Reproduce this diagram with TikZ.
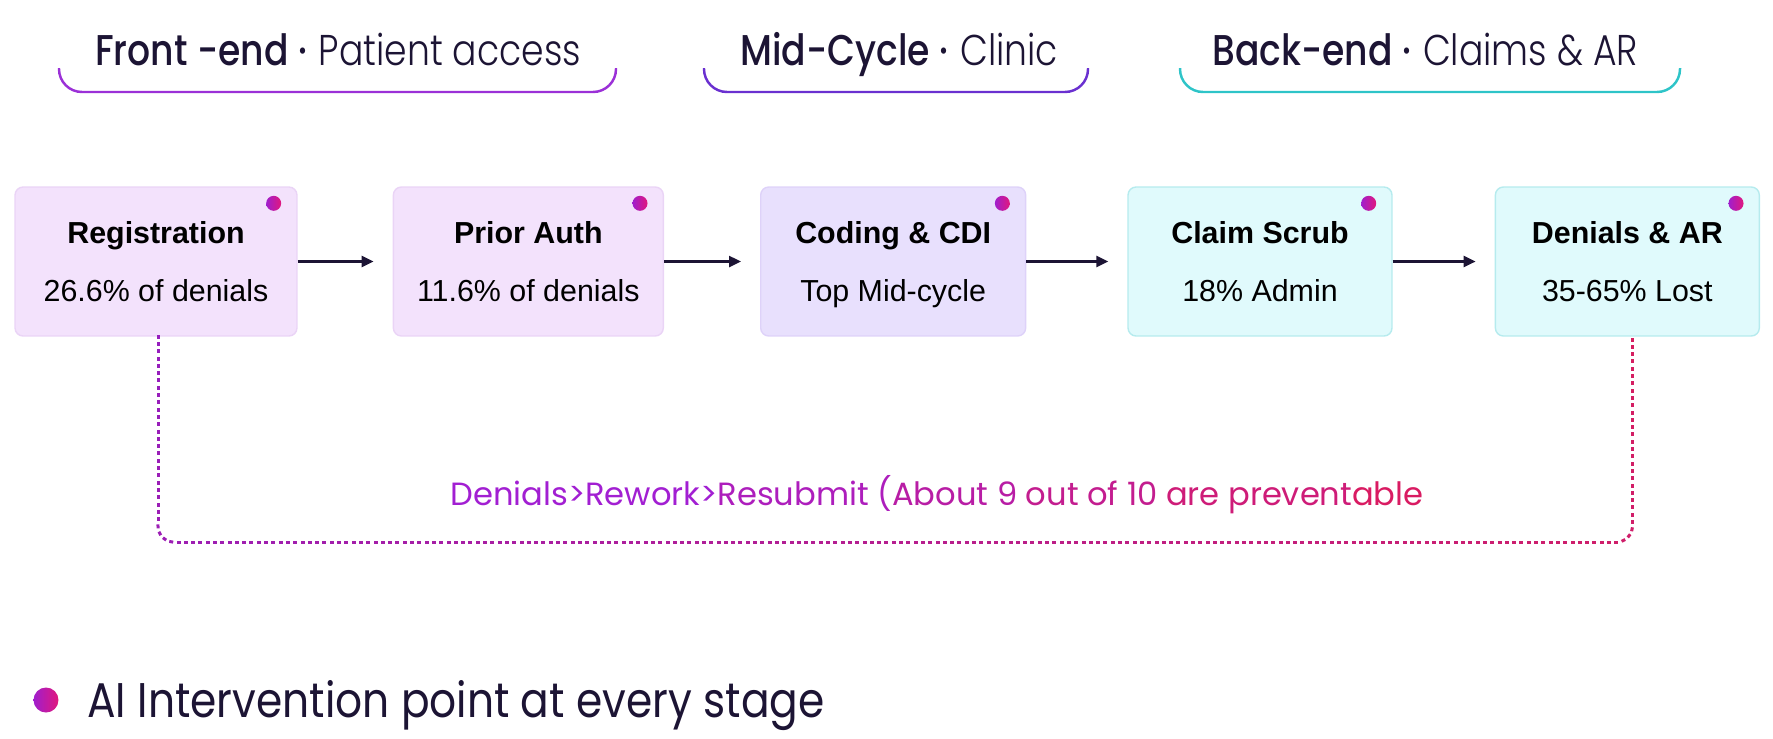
\documentclass[tikz,border=0pt]{standalone}
\usepackage{fontspec}
\setmainfont{Liberation Sans}
\newfontfamily\popmed[FakeStretch=0.84]{Poppins Medium}
\newfontfamily\poplight[FakeStretch=0.84]{Poppins Light}
\newfontfamily\popreg{Poppins}
\newfontfamily\popnarrow[FakeStretch=0.87]{Poppins}
\usetikzlibrary{arrows.meta, positioning, calc, decorations.markings}
\definecolor{inkdark}{RGB}{28,20,52}
\definecolor{pinkfill}{RGB}{243,226,252}
\definecolor{pinkline}{RGB}{234,212,246}
\definecolor{lilacfill}{RGB}{232,224,253}
\definecolor{lilacline}{RGB}{222,210,249}
\definecolor{cyanfill}{RGB}{224,250,252}
\definecolor{cyanline}{RGB}{182,235,238}
\definecolor{dotleft}{RGB}{160,30,205}
\definecolor{dotright}{RGB}{225,24,125}
\definecolor{frontline}{RGB}{155,48,215}
\definecolor{midline}{RGB}{106,48,208}
\definecolor{backline}{RGB}{46,196,200}
\definecolor{loopleft}{RGB}{150,30,190}
\definecolor{loopright}{RGB}{215,30,95}
\definecolor{labelleft}{RGB}{162,31,210}
\definecolor{labelright}{RGB}{217,27,98}

\begin{document}
\begin{tikzpicture}[
  x=0.02cm, y=-0.02cm,
  stage/.style={draw=pinkline, line width=0.8pt, rounded corners=0.16cm, fill=pinkfill,
                minimum width=5.3cm, minimum height=2.98cm, align=center, inner sep=0pt,
                font=\fontsize{17.3}{33}\selectfont},
  arr/.style={-{Triangle[length=0.24cm, width=0.22cm]}, line width=1.4pt, inkdark, shorten >=0.38cm},
  hdr/.style={anchor=base west, inner sep=0pt, text=inkdark, font=\fontsize{24.5}{28}\selectfont},
  brace/.style={line width=1.4pt, rounded corners=0.46cm},
  aidot/.style={circle, inner sep=0pt, minimum size=0.3cm, left color=dotleft, right color=dotright},
  loopline/.style={decorate, decoration={markings,
      mark=between positions 0 and 1 step 0.146cm with {
        \pgfmathtruncatemacro\mixpct{\pgfkeysvalueof{/pgf/decoration/mark info/distance from start}/\pgfdecoratedpathlength*100}
        \fill[sharp corners, loopright!\mixpct!loopleft] (-0.04cm,-0.03cm) rectangle (0.04cm,0.03cm);}}}
]
\useasboundingbox (0,0) rectangle (1773,738);

\node[hdr] (front) at (95,65) {{\popmed Front -end ·} {\poplight Patient access}};
\node[hdr] (mid) at (740,65) {{\popmed Mid-Cycle ·} {\poplight Clinic}};
\node[hdr] (back) at (1212,65) {{\popmed Back-end ·} {\poplight Claims \& AR}};
\draw[brace, frontline] (59,68) |- (616,92) -- (616,68);
\draw[brace, midline] (704,68) |- (1088,92) -- (1088,68);
\draw[brace, backline] (1180,68) |- (1680,92) -- (1680,68);

\node[stage, minimum width=5.64cm] (reg) at (156,261.5) {\textbf{Registration}\\\smash{26.6\% of denials}};
\node[stage, minimum width=5.4cm, right=1.9cm of reg] (prior) {\textbf{Prior Auth}\\\smash{11.6\% of denials}};
\node[stage, fill=lilacfill, draw=lilacline, right=1.92cm of prior] (coding) {\textbf{Coding \& CDI}\\\smash{Top Mid-cycle}};
\node[stage, fill=cyanfill, draw=cyanline, minimum width=5.28cm, right=2.02cm of coding] (claim) {\textbf{Claim Scrub}\\\smash{18\% Admin}};
\node[stage, fill=cyanfill, draw=cyanline, minimum width=5.28cm, right=2.04cm of claim] (deny) {\textbf{Denials \& AR}\\\smash{35-65\% Lost}};

\foreach \s in {reg, prior, coding, claim, deny}
  \node[aidot] (\s dot) at ([xshift=-0.48cm, yshift=-0.34cm]\s.north east) {};

\draw[arr] (reg) -- (prior);
\draw[arr] (prior) -- (coding);
\draw[arr] (coding) -- (claim);
\draw[arr] (claim) -- (deny);

\coordinate (loopstart) at ([xshift=0.04cm]reg.south);
\coordinate (loopend) at ([xshift=0.1cm]deny.south);
\coordinate (lowline) at (0,542);
\path[loopline, rounded corners=0.32cm] (loopstart) |- (loopend |- lowline) -- (loopend);
\node[anchor=base, inner sep=0pt, font=\popreg\fontsize{18.3}{22}\selectfont] (loopnote) at (937,505)
  {\textcolor{labelleft}{Denials>Rework>}\textcolor{labelright!20!labelleft}{Resubmit (}\textcolor{labelright!40!labelleft}{About 9 }\textcolor{labelright!60!labelleft}{out of 10 }\textcolor{labelright!80!labelleft}{are prevent}\textcolor{labelright}{able}};

\node[aidot, minimum size=0.5cm] (keydot) at (46,700) {};
\node[anchor=base west, inner sep=0pt, text=inkdark, font=\popnarrow\fontsize{27.7}{32}\selectfont] (keytext) at (87,717) {AI Intervention point at every stage};
\end{tikzpicture}
\end{document}
